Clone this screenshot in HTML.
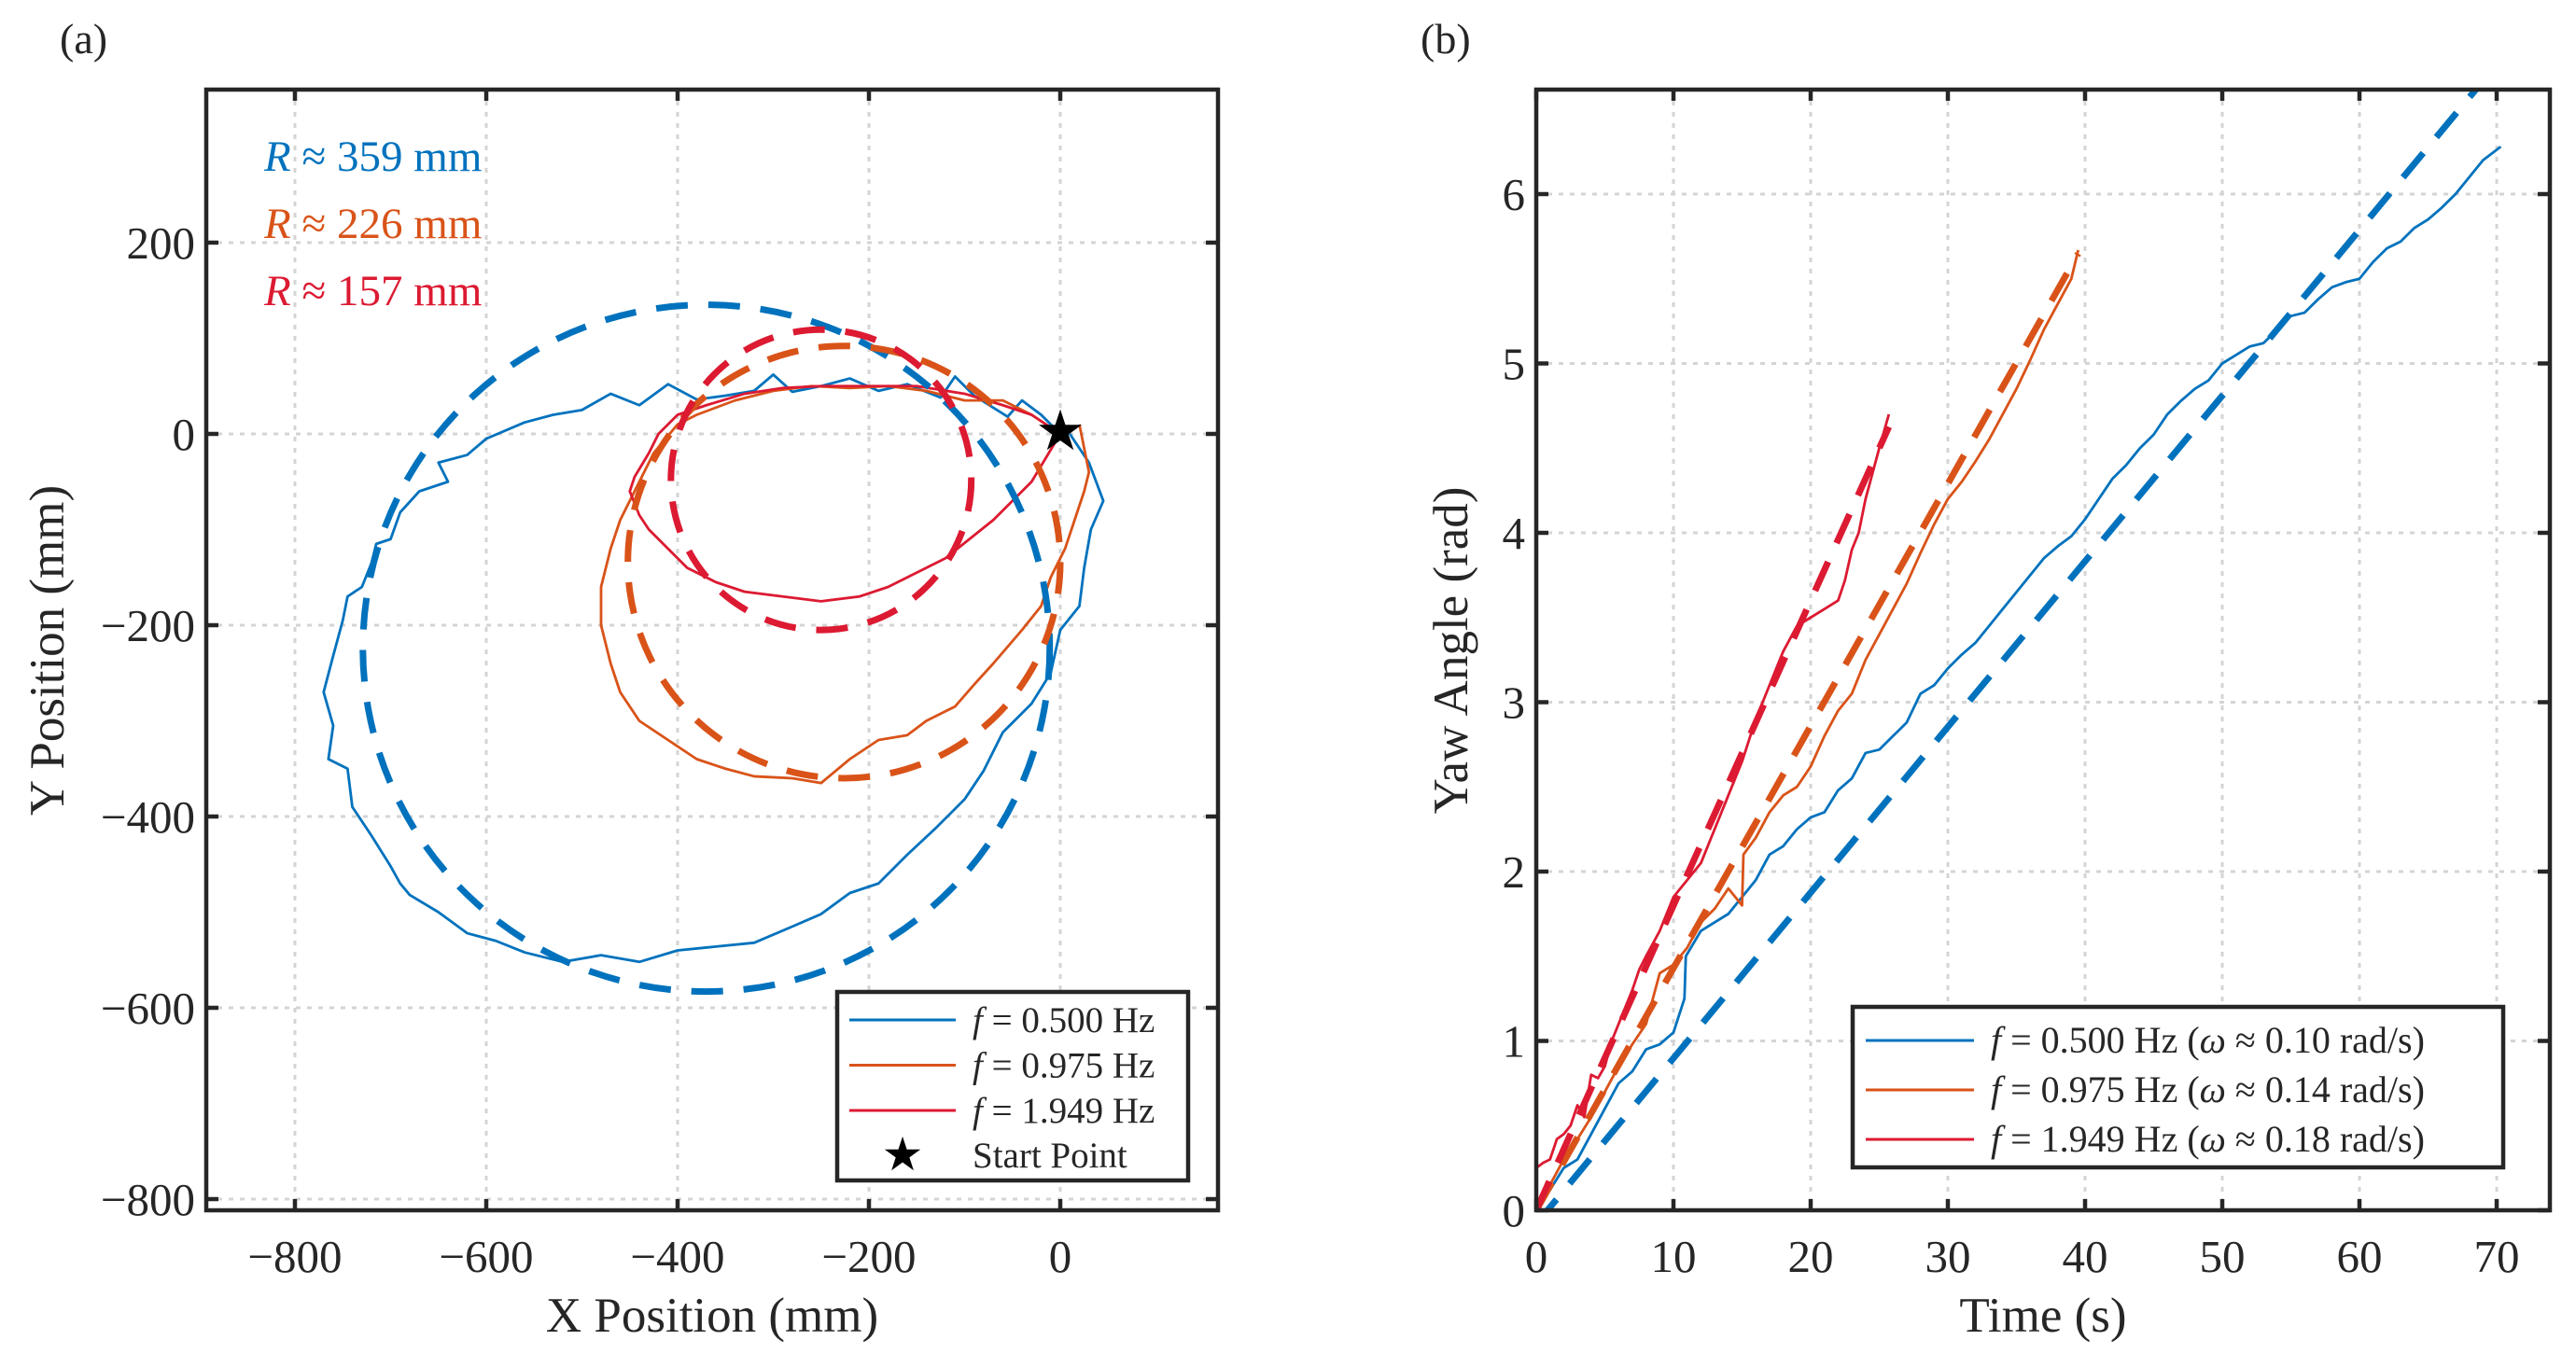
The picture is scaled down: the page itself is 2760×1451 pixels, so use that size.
<!DOCTYPE html>
<html><head><meta charset="utf-8"><style>
html,body{margin:0;padding:0;background:#fff}
svg{display:block}
text{font-family:"Liberation Serif","DejaVu Serif",serif;fill:#262626}
</style></head><body>
<svg id="fig" width="2760" height="1451" viewBox="0 0 2760 1451" xmlns="http://www.w3.org/2000/svg">
<g id="pa"></g>
<g id="pb"></g>
</svg>
<script>
// ---------- Panel (a) data ----------
const xTicksA = [-800, -600, -400, -200, 0];
const yTicksA = [200, 0, -200, -400, -600, -800];
const seriesNames = ["f = 0.500 Hz", "f = 0.975 Hz", "f = 1.949 Hz"];
const circleCx = [-370, -226, -250];
const circleCy = [-224, -134, -48];
const circleR = [359, 226, 157];
const radiusLabels = ["359", "226", "157"];
const trajBlue = [[0,0],[-20,20],[-40,35],[-55,18],[-90,40],[-110,60],[-125,38],[-160,52],[-190,45],[-220,58],[-250,50],[-280,44],[-300,62],[-320,45],[-350,40],[-380,36],[-410,52],[-440,30],[-470,42],[-500,25],[-530,20],[-560,12],[-600,-5],[-620,-22],[-650,-30],[-640,-50],[-670,-60],[-690,-82],[-700,-110],[-715,-115],[-720,-135],[-730,-160],[-745,-170],[-750,-195],[-760,-232],[-770,-270],[-760,-305],[-765,-340],[-745,-350],[-740,-390],[-720,-420],[-700,-452],[-690,-470],[-680,-482],[-650,-500],[-620,-522],[-590,-530],[-560,-542],[-520,-552],[-480,-545],[-440,-552],[-400,-540],[-360,-536],[-320,-532],[-280,-515],[-250,-502],[-220,-480],[-190,-470],[-160,-440],[-130,-412],[-100,-382],[-80,-352],[-60,-312],[-30,-282],[-10,-250],[0,-205],[20,-180],[25,-140],[32,-100],[45,-70],[30,-30],[10,0]];
const trajOrange = [[0,0],[-30,20],[-60,35],[-100,35],[-140,45],[-180,50],[-220,48],[-260,50],[-300,45],[-340,35],[-380,20],[-400,10],[-425,-20],[-440,-50],[-460,-90],[-470,-120],[-480,-160],[-480,-200],[-470,-240],[-460,-270],[-440,-300],[-410,-320],[-380,-340],[-350,-350],[-320,-358],[-280,-360],[-250,-365],[-220,-340],[-190,-320],[-160,-315],[-140,-300],[-110,-285],[-90,-262],[-70,-240],[-40,-205],[-20,-180],[-10,-150],[5,-120],[15,-90],[25,-60],[30,-40],[20,10]];
const trajRed = [[0,0],[-30,20],[-60,30],[-100,42],[-150,50],[-200,50],[-250,50],[-290,48],[-330,42],[-370,30],[-400,20],[-420,0],[-430,-20],[-445,-45],[-450,-60],[-440,-85],[-430,-100],[-410,-120],[-390,-140],[-360,-155],[-330,-165],[-290,-170],[-250,-175],[-210,-170],[-180,-160],[-150,-145],[-120,-130],[-95,-110],[-70,-90],[-50,-70],[-30,-50],[-15,-25],[0,0]];
// ---------- Panel (b) data ----------
const xTicksB = [0, 10, 20, 30, 40, 50, 60, 70];
const yTicksB = [0, 1, 2, 3, 4, 5, 6];
const omegaLabels = ["0.10", "0.14", "0.18"];
const yawBlueT = [0,1,2,3,4,5,6,7,8,9,10,10.8,10.9,12,13,14,15,16,17,18,19,20,21,22,23,24,25,26,27,28,29,30,31,32,33,34,35,36,37,38,39,40,41,42,43,44,45,46,47,48,49,50,51,52,53,54,55,56,57,58,59,60,61,62,63,64,65,66,67,68,69,70.3];
const yawBlueV = [0,0.12,0.25,0.3,0.45,0.6,0.75,0.82,0.95,0.98,1.05,1.25,1.5,1.65,1.7,1.75,1.85,1.95,2.1,2.15,2.25,2.32,2.35,2.48,2.55,2.7,2.72,2.8,2.88,3.05,3.1,3.2,3.28,3.35,3.45,3.55,3.65,3.75,3.85,3.92,3.98,4.08,4.2,4.32,4.4,4.5,4.58,4.7,4.78,4.85,4.9,5.0,5.05,5.1,5.12,5.2,5.28,5.3,5.38,5.45,5.48,5.5,5.6,5.68,5.72,5.8,5.85,5.92,6.0,6.1,6.2,6.28];
const yawOrangeT = [0,1,2,3,4,5,6,7,8,9,10,11,12,13,14,15,15.1,16,17,18,19,20,21,22,23,24,25,26,27,28,29,30,31,32,33,34,35,36,37,38,39,39.5];
const yawOrangeV = [0,0.15,0.3,0.42,0.55,0.7,0.85,0.98,1.1,1.4,1.45,1.55,1.7,1.78,1.9,1.8,2.1,2.2,2.35,2.45,2.5,2.62,2.8,2.95,3.05,3.25,3.4,3.55,3.7,3.88,4.05,4.2,4.3,4.42,4.55,4.7,4.85,5.02,5.2,5.35,5.5,5.67];
const yawRedT = [0,0.5,1,1.5,2,2.5,3,3.5,4,4.5,5,5.5,6,6.5,7,7.5,8,9,10,11,12,13,14,15,16,17,18,19,20,21,22,22.5,23,23.5,24,24.5,25,25.7];
const yawRedV = [0.25,0.28,0.3,0.42,0.45,0.5,0.62,0.55,0.8,0.78,0.85,1.0,1.1,1.2,1.3,1.42,1.5,1.65,1.85,1.95,2.05,2.25,2.45,2.65,2.9,3.1,3.3,3.45,3.5,3.55,3.6,3.72,3.9,4.0,4.2,4.35,4.5,4.7];
const fitSlope = [0.0978, 0.143, 0.18];
const fitOffset = [-0.08, 0, 0];
const fitEnd = [68.5, 39.5, 25.7];

const colors = ["#0072BD", "#D95319", "#DC1A32"];
const NS = "http://www.w3.org/2000/svg";
function mk(tag, attrs, parent){ const e=document.createElementNS(NS,tag); for(const k in attrs) e.setAttribute(k,attrs[k]); parent.appendChild(e); return e; }

const A = {l:221, r:1305, t:96, b:1297};
const xA = v => 1136 + v*1.025;
const yA = v => 465 - v*1.025;
const B = {l:1646, r:2732, t:96, b:1297};
const xB = v => 1646 + v*14.7;
const yB = v => 1297 - v*181.5;

function frame(g, P, xt, yt, xf, yf, prefix){
  xt.forEach(v=>{ const l=mk('line',{x1:xf(v),x2:xf(v),y1:P.t,y2:P.b,stroke:'#d4d4d4','stroke-width':3,'stroke-dasharray':'5 7'},g);
      });
  yt.forEach(v=>{ const l=mk('line',{x1:P.l,x2:P.r,y1:yf(v),y2:yf(v),stroke:'#d4d4d4','stroke-width':3,'stroke-dasharray':'5 7'},g);
      });
}
function axes(g, P, xt, yt, xf, yf, prefix, fmt){
  const r=mk('rect',{x:P.l,y:P.t,width:P.r-P.l,height:P.b-P.t,fill:'none',stroke:'#262626','stroke-width':4.5},g);
   
  xt.forEach(v=>{ const x=xf(v);
    mk('line',{x1:x,x2:x,y1:P.b,y2:P.b-12,stroke:'#262626','stroke-width':4.5},g);
    mk('line',{x1:x,x2:x,y1:P.t,y2:P.t+12,stroke:'#262626','stroke-width':4.5},g);
    const t=mk('text',{x:x,y:P.b+66,'font-size':49,'text-anchor':'middle'},g); t.textContent=fmt(v);
      });
  yt.forEach(v=>{ const y=yf(v);
    mk('line',{x1:P.l,x2:P.l+13,y1:y,y2:y,stroke:'#262626','stroke-width':4.5},g);
    mk('line',{x1:P.r,x2:P.r-13,y1:y,y2:y,stroke:'#262626','stroke-width':4.5},g);
    const t=mk('text',{x:P.l-12,y:y+17,'font-size':49,'text-anchor':'end'},g); t.textContent=fmt(v);
      });
}
const fmt = v => v<0 ? '\u2212'+(-v) : ''+v;

// ---------- Panel (a) ----------
const ga = document.getElementById('pa');
frame(ga, A, xTicksA, yTicksA, xA, yA, 'a-');
const clipA = mk('clipPath',{id:'ca'},ga); mk('rect',{x:A.l,y:A.t,width:A.r-A.l,height:A.b-A.t},clipA);
const plotA = mk('g',{'clip-path':'url(#ca)'},ga);
[trajBlue, trajOrange, trajRed].forEach((tr,i)=>{
  const p=mk('polyline',{points:tr.map(q=>xA(q[0])+','+yA(q[1])).join(' '),fill:'none',stroke:colors[i],'stroke-width':2.8,'stroke-linejoin':'round'},plotA);
  
  
});
circleR.forEach((R,i)=>{
  const c=mk('ellipse',{cx:xA(circleCx[i]),cy:yA(circleCy[i]),rx:R*1.025,ry:R*1.025,fill:'none',stroke:colors[i],'stroke-width':7,'stroke-dasharray':'34 22'},plotA);
  
  
});
const star = mk('text',{x:xA(0),y:yA(0)+17,'font-size':60,'text-anchor':'middle',style:'fill:#000;font-family:"DejaVu Sans",sans-serif'},plotA);
star.textContent='\u2605';


axes(ga, A, xTicksA, yTicksA, xA, yA, 'a-', fmt);
radiusLabels.forEach((s,i)=>{
  const t=mk('text',{x:283,y:183+i*72,'font-size':47,style:'fill:'+colors[i]},ga);
  t.innerHTML='<tspan font-style="italic">R</tspan> \u2248 '+s+' mm';
  
  
});
const la = mk('g',{},ga);


mk('rect',{x:897,y:1063,width:376,height:202,fill:'#fff',stroke:'#262626','stroke-width':4.5},la);
seriesNames.forEach((s,i)=>{
  const y=1093+i*48.5;
  mk('line',{x1:910,x2:1024,y1:y,y2:y,stroke:colors[i],'stroke-width':3},la);
  const t=mk('text',{x:1042,y:y+13,'font-size':39},la);
  t.innerHTML='<tspan font-style="italic">f</tspan> = '+s.slice(4);
  
  
});
const ls=mk('text',{x:967,y:1254,'font-size':50,'text-anchor':'middle',style:'fill:#000;font-family:"DejaVu Sans",sans-serif'},la); ls.textContent='\u2605';
const lt=mk('text',{x:1042,y:1251,'font-size':39},la); lt.textContent='Start Point';


let t;
t=mk('text',{x:763,y:1427,'font-size':53,'text-anchor':'middle'},ga); t.textContent='X Position (mm)';
 
t=mk('text',{x:0,y:0,'font-size':53,'text-anchor':'middle',transform:'translate(68,697) rotate(-90)'},ga); t.textContent='Y Position (mm)';
 
t=mk('text',{x:64,y:57,'font-size':46},ga); t.textContent='(a)';
 

// ---------- Panel (b) ----------
const gb = document.getElementById('pb');
frame(gb, B, xTicksB, yTicksB, xB, yB, 'b-');
const clipB = mk('clipPath',{id:'cb'},gb); mk('rect',{x:B.l,y:B.t,width:B.r-B.l,height:B.b-B.t},clipB);
const plotB = mk('g',{'clip-path':'url(#cb)'},gb);
[[yawBlueT,yawBlueV],[yawOrangeT,yawOrangeV],[yawRedT,yawRedV]].forEach((s,i)=>{
  const p=mk('polyline',{points:s[0].map((tt,k)=>xB(tt)+','+yB(s[1][k])).join(' '),fill:'none',stroke:colors[i],'stroke-width':2.8,'stroke-linejoin':'round'},plotB);
  
  
});
fitSlope.forEach((m,i)=>{
  const p=mk('line',{x1:xB(0),y1:yB(fitOffset[i]),x2:xB(fitEnd[i]),y2:yB(fitOffset[i]+m*fitEnd[i]),stroke:colors[i],'stroke-width':7,'stroke-dasharray':'34 22'},plotB);
  
  
});
axes(gb, B, xTicksB, yTicksB, xB, yB, 'b-', fmt);
const lb = mk('g',{},gb);


mk('rect',{x:1985,y:1079,width:697,height:172,fill:'#fff',stroke:'#262626','stroke-width':4.5},lb);
seriesNames.forEach((s,i)=>{
  const y=1115+i*53;
  mk('line',{x1:1999,x2:2115,y1:y,y2:y,stroke:colors[i],'stroke-width':3},lb);
  const tx=mk('text',{x:2133,y:y+13,'font-size':40},lb);
  tx.innerHTML='<tspan font-style="italic">f</tspan> = '+s.slice(4)+' (<tspan font-style="italic">\u03c9</tspan> \u2248 '+omegaLabels[i]+' rad/s)';
  
  
});
t=mk('text',{x:2189,y:1427,'font-size':53,'text-anchor':'middle'},gb); t.textContent='Time (s)';
 
t=mk('text',{x:0,y:0,'font-size':53,'text-anchor':'middle',transform:'translate(1572,697) rotate(-90)'},gb); t.textContent='Yaw Angle (rad)';
 
t=mk('text',{x:1522,y:57,'font-size':46},gb); t.textContent='(b)';
 
</script>
</body></html>
